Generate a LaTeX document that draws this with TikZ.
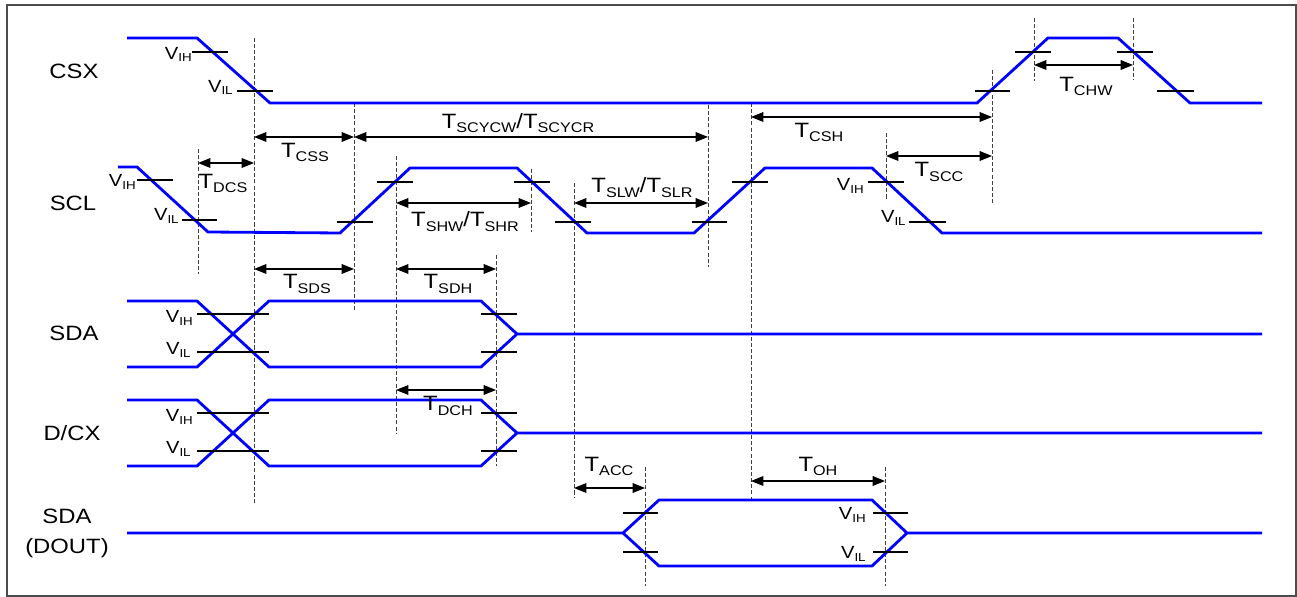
\documentclass[tikz,border=0pt]{standalone}
\usepackage{fontspec}
\setmainfont[FakeStretch=1.15]{Liberation Sans}
\usetikzlibrary{arrows.meta}

\tikzset{
  sig/.style={draw=blue, line width=1.6pt},
  lvl/.style={draw=black, line width=0.9pt},
  guide/.style={draw=black!75, line width=0.5pt, dash pattern=on 2.3pt off 1.2pt},
  dim/.style={draw=black, line width=0.6pt, {Triangle[length=7pt,width=5.5pt]}-{Triangle[length=7pt,width=5.5pt]}},
  signame/.style={font=\fontsize{11.8}{17}\selectfont, align=center, inner sep=0pt},
  tlbl/.style={font=\fontsize{11.8}{14}\selectfont, inner sep=0pt},
  vlbl/.style={font=\fontsize{10}{12}\selectfont, inner sep=0pt, anchor=east},
}
\newcommand{\tm}[1]{T\raisebox{-2.5pt}{\fontsize{8}{8}\selectfont #1}}
\newcommand{\vv}[1]{V\raisebox{-1.3pt}{\fontsize{6.6}{7}\selectfont #1}}

\begin{document}
\begin{tikzpicture}[x=0.02cm, y=-0.02cm]
  \useasboundingbox (0,0) rectangle (1297,597);
  \draw[black!70, line width=0.8pt] (7,5) rectangle (1296,596);

  % signal names
  \node[signame] (csx) at (74,71) {CSX};
  \node[signame] (scl) at (73,203) {SCL};
  \node[signame] (sda) at (74,333) {SDA};
  \node[signame] (dcx) at (72,433) {D/CX};
  \node[signame] (dout) at (67,533) {SDA\\(DOUT)};

  % dashed guides
  \foreach \x/\a/\b in {198/149/274, 254/38/503, 354/103/310, 396/156/433,
      531/169/232, 496/255/466, 574/183/497, 708/105/267, 751/103/499,
      886/133/200, 992/70/203, 1034/18/81, 1133/18/80, 645/467/586, 885/467/586}
    \draw[guide] (\x,\a) -- (\x,\b);

  % CSX
  \draw[sig] (127,38) -- (197,38) -- (270,103) -- (977,103) -- (1048,38)
    -- (1118,38) -- (1190,103) -- (1262,103);
  \draw[lvl] (192,52) -- (228,52) (237,91) -- (273,91)
    (975,91) -- (1010,91) (1015,52) -- (1051,52)
    (1117,52) -- (1153,52) (1157,91) -- (1194,91);
  \node[vlbl] (csx-vih) at (192,54.5) {\vv{IH}};
  \node[vlbl] (csx-vil) at (233,87.5) {\vv{IL}};

  % SCL
  \draw[sig] (118,167) -- (137,167) -- (208,232) -- (340,233) -- (410,168)
    -- (517,168) -- (587,233) -- (694,233) -- (765,168) -- (872,168)
    -- (942,233) -- (1262,233);
  \draw[lvl] (137,180) -- (173,180) (182,220) -- (217,220)
    (337,222) -- (373,222) (377,182) -- (413,182)
    (514,182) -- (550,182) (555,222) -- (591,222)
    (692,222) -- (727,222) (732,182) -- (768,182)
    (868,182) -- (904,182) (909,222) -- (946,222);
  \node[vlbl] (scl-vih) at (136,182) {\vv{IH}};
  \node[vlbl] (scl-vil) at (179,216) {\vv{IL}};
  \node[vlbl] (scl-vih2) at (864,186) {\vv{IH}};
  \node[vlbl] (scl-vil2) at (906,218) {\vv{IL}};

  % SDA and D/CX
  \foreach \hi/\lo/\mid/\name in {301/367/334/sda, 400/466/433/dcx} {
    \draw[sig] (127,\hi) -- (197,\hi) -- (269,\lo) -- (481,\lo) -- (517,\mid) -- (1262,\mid);
    \draw[sig] (127,\lo) -- (197,\lo) -- (269,\hi) -- (481,\hi) -- (517,\mid);
    \draw[lvl] (197,\hi+13) -- (269,\hi+13) (197,\lo-15) -- (269,\lo-15)
      (481,\hi+13) -- (517,\hi+13) (481,\lo-15) -- (517,\lo-15);
    \node[vlbl] (\name-vih) at (193,\hi+17) {\vv{IH}};
    \node[vlbl] (\name-vil) at (191,\lo-17) {\vv{IL}};
  }

  % SDA (DOUT)
  \draw[sig] (127,533) -- (623,533) -- (659,500) -- (872,500) -- (907,533) -- (1262,533);
  \draw[sig] (623,533) -- (659,566) -- (872,566) -- (907,533);
  \draw[lvl] (623,513) -- (658,513) (623,552) -- (658,552)
    (873,513) -- (908,513) (873,552) -- (908,552);
  \node[vlbl] (dout-vih) at (866,515) {\vv{IH}};
  \node[vlbl] (dout-vil) at (866,554) {\vv{IL}};

  % timing parameters
  \draw[dim] (254,137) -- (354,137);
  \node[tlbl] (tcss) at (305,152.5) {\tm{CSS}};
  \draw[dim] (354,137) -- (708,137);
  \node[tlbl] (tscyc) at (518,123) {\tm{SCYCW}/\tm{SCYCR}};
  \draw[dim] (198,163) -- (254,163);
  \node[tlbl] (tdcs) at (223,183.5) {\tm{DCS}};
  \draw[dim] (396,203) -- (531,203);
  \node[tlbl] (tshw) at (465,221.5) {\tm{SHW}/\tm{SHR}};
  \draw[dim] (574,203) -- (708,203);
  \node[tlbl] (tslw) at (642,187.5) {\tm{SLW}/\tm{SLR}};
  \draw[dim] (751,117) -- (992,117);
  \node[tlbl] (tcsh) at (819,132.5) {\tm{CSH}};
  \draw[dim] (886,156) -- (992,156);
  \node[tlbl] (tscc) at (939,172) {\tm{SCC}};
  \draw[dim] (1034,65) -- (1133,65);
  \node[tlbl] (tchw) at (1086,86.5) {\tm{CHW}};
  \draw[dim] (254,269) -- (354,269);
  \node[tlbl] (tsds) at (307,284) {\tm{SDS}};
  \draw[dim] (396,269) -- (496,269);
  \node[tlbl] (tsdh) at (448,284) {\tm{SDH}};
  \draw[dim] (396,390) -- (496,390);
  \node[tlbl] (tdch) at (448,406) {\tm{DCH}};
  \draw[dim] (574,488) -- (645,488);
  \node[tlbl] (tacc) at (609,466.5) {\tm{ACC}};
  \draw[dim] (751,481) -- (885,481);
  \node[tlbl] (toh) at (818,466.5) {\tm{OH}};
\end{tikzpicture}
\end{document}
